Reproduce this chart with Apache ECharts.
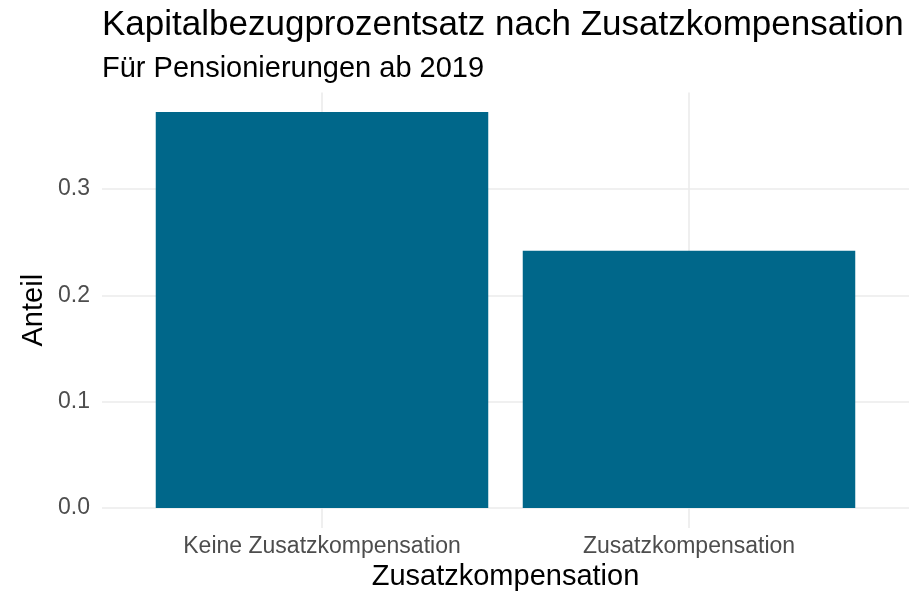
<!DOCTYPE html>
<html>
<head>
<meta charset="utf-8">
<script src="https://cdn.jsdelivr.net/npm/echarts@6/dist/echarts.min.js"></script>
<style>
  html, body { margin: 0; padding: 0; background: #fff; }
  #chart { width: 920px; height: 593px; }
</style>
</head>
<body>
<div id="chart"></div>
<script>
const categories = ['Keine Zusatzkompensation', 'Zusatzkompensation']
const anteil = [0.3725, 0.242]
const yTicks = [0, 0.1, 0.2, 0.3]

const FONT = 'Liberation Sans, Arial, sans-serif'
const barColor = '#00678a'
const gridColor = '#ebebeb'

const chart = echarts.init(document.getElementById('chart'))

// scale: 0 at y=508, top at 92.4, expanded bottom at 528
const yMax = 0.391
const yMinExpanded = -0.0188

const option = {
  animation: false,
  title: [
    {
      text: 'Kapitalbezugprozentsatz nach Zusatzkompensation',
      left: 102,
      top: 8,
      padding: 0,
      textStyle: { fontFamily: FONT, fontSize: 35, fontWeight: 'normal', color: '#000' }
    },
    {
      text: 'Für Pensionierungen ab 2019',
      left: 102,
      top: 54,
      padding: 0,
      textStyle: { fontFamily: FONT, fontSize: 29, fontWeight: 'normal', color: '#000' }
    }
  ],
  grid: [
    // full panel width: horizontal gridlines + y labels
    { left: 102, right: 11, top: 92.4, bottom: 85, outerBoundsMode: 'none', containLabel: false },
    // category bands for the bars
    { left: 138.5, right: 47.5, top: 92.4, bottom: 65, outerBoundsMode: 'none', containLabel: false }
  ],
  xAxis: [
    { gridIndex: 0, type: 'category', data: categories, show: false },
    {
      gridIndex: 1,
      type: 'category',
      data: categories,
      name: 'Zusatzkompensation',
      nameLocation: 'middle',
      nameGap: 34,
      nameTextStyle: { fontFamily: FONT, fontSize: 29, color: '#000' },
      axisLine: { show: false },
      axisTick: { show: false },
      splitLine: { show: false },
      axisLabel: { fontFamily: FONT, fontSize: 23, color: '#4d4d4d', margin: 7 }
    }
  ],
  yAxis: [
    {
      gridIndex: 0,
      type: 'value',
      min: 0,
      max: yMax,
      interval: 0.1,
      axisLine: { show: false },
      axisTick: { show: false },
      axisLabel: {
        fontFamily: FONT,
        fontSize: 23,
        color: '#4d4d4d',
        margin: 12,
        showMaxLabel: false,
        formatter: v => yTicks.some(t => Math.abs(t - v) < 1e-9) ? v.toFixed(1) : ''
      },
      splitLine: { show: true, showMaxLine: false, lineStyle: { color: gridColor, width: 1.6 } }
    },
    {
      gridIndex: 1,
      type: 'value',
      min: yMinExpanded,
      max: yMax,
      name: 'Anteil',
      nameLocation: 'middle',
      nameGap: 90,
      nameTextStyle: { fontFamily: FONT, fontSize: 29, color: '#000' },
      axisLine: { show: false },
      axisTick: { show: false },
      axisLabel: { show: false },
      splitLine: { show: false }
    }
  ],
  series: [
    {
      type: 'bar',
      xAxisIndex: 1,
      yAxisIndex: 1,
      data: anteil,
      barWidth: '90.6%',
      z: 3,
      itemStyle: { color: barColor },
      markLine: {
        silent: true,
        symbol: 'none',
        z: 1,
        label: { show: false },
        lineStyle: { color: gridColor, width: 1.6, type: 'solid' },
        data: categories.map(c => ({ xAxis: c }))
      }
    }
  ]
}

chart.setOption(option)
</script>
</body>
</html>
